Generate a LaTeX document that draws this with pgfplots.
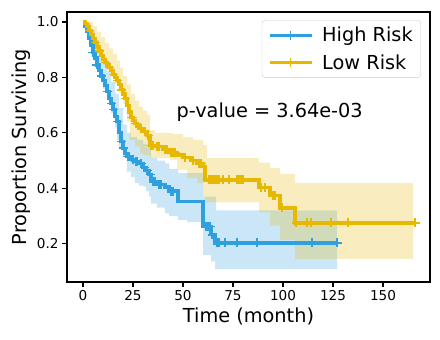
\documentclass[border=0pt]{standalone}
\usepackage{pgfplots}
\pgfplotsset{compat=1.18}
\usepgfplotslibrary{fillbetween}
\usepackage{fontspec}
\setmainfont{DejaVu Sans}
\definecolor{hblue}{HTML}{2E9FDF}
\definecolor{lgold}{HTML}{E7B800}

% Kaplan-Meier steps: time, survival
\pgfplotstableread{
t s
0 1.0
1 0.985
2 0.965
3 0.94
4 0.915
5 0.89
6 0.87
7 0.845
8 0.825
9 0.805
10 0.79
11 0.77
12 0.75
13 0.725
14 0.705
15 0.685
16 0.66
17 0.64
18 0.60
19 0.57
20 0.545
21 0.525
22 0.515
24 0.505
26 0.497
28 0.49
30 0.475
31.5 0.465
33 0.45
34 0.425
37 0.413
41 0.405
43 0.39
47.5 0.352
60 0.262
64 0.232
66 0.203
127 0.203
}\highkm
\pgfplotstableread{
t s
0 1.0
2 0.995
4 0.97
6 0.935
8 0.89
10 0.855
12 0.82
14 0.785
16 0.74
18 0.69
20 0.63
22 0.60
24 0.585
27 0.575
30 0.56
32 0.55
34 0.51
37 0.50
41 0.49
43 0.47
47.5 0.455
60 0.37
66.5 0.32
127 0.32
}\highup
\pgfplotstableread{
t s
0 1.0
2 0.94
4 0.89
6 0.84
8 0.80
10 0.76
12 0.72
14 0.67
16 0.62
17 0.575
18 0.545
20 0.515
22 0.46
24 0.44
26 0.42
28 0.41
30 0.406
31.5 0.39
33 0.37
34 0.345
37 0.33
41 0.31
43 0.30
47.5 0.286
52 0.278
60 0.16
64 0.136
66 0.109
127 0.109
}\highlo
\pgfplotstableread{
t s
0 1.0
1 0.995
2 0.985
3 0.97
4 0.955
5 0.94
6 0.925
7 0.91
8 0.895
9 0.88
10 0.865
11 0.855
12 0.845
13 0.835
14 0.825
15 0.81
16 0.80
17 0.79
18 0.775
19 0.755
20 0.74
21 0.725
22 0.70
23 0.675
24 0.655
25 0.645
26 0.635
27 0.625
28 0.615
30 0.605
32 0.59
33.5 0.555
36 0.55
40 0.54
43 0.53
47 0.52
50 0.51
54 0.50
57 0.49
60 0.48
61 0.43
88 0.403
93.5 0.373
98.5 0.329
106 0.275
166 0.275
}\lowkm
\pgfplotstableread{
t s
0 1.0
3 1.0
5 0.985
7 0.965
9 0.945
11 0.925
13 0.905
15 0.885
17 0.86
18.5 0.835
20 0.805
22 0.775
24 0.74
26 0.715
28 0.695
30 0.68
32 0.665
33.5 0.61
36 0.60
45 0.595
50 0.585
55 0.575
60 0.557
62 0.509
88 0.493
93.5 0.473
98.5 0.452
106 0.419
165 0.419
}\lowup
\pgfplotstableread{
t s
0 1.0
2 0.97
4 0.935
6 0.905
8 0.875
10 0.845
12 0.82
14 0.80
16 0.775
18 0.745
20 0.705
22 0.64
23.5 0.575
26 0.55
28.5 0.528
30 0.52
33.5 0.509
43.5 0.503
47 0.467
52 0.437
57 0.419
60 0.37
61 0.349
88 0.313
93.5 0.265
98.5 0.214
106 0.145
165 0.145
}\lowlo
% censored observations
\pgfplotstableread{
t s
5 0.89
7 0.845
9.5 0.805
12.5 0.75
14.5 0.705
15.5 0.685
17.5 0.64
19.5 0.57
20.5 0.545
22.5 0.515
23 0.515
25 0.505
26.5 0.497
27 0.497
29 0.49
30.5 0.475
32 0.465
33.5 0.45
35 0.425
36 0.425
38 0.413
39 0.413
44 0.39
45 0.39
61.5 0.262
62.5 0.262
63.5 0.262
64.5 0.232
67 0.203
68 0.203
71 0.203
77 0.203
87 0.203
114.5 0.203
127 0.203
}\highcens
\pgfplotstableread{
t s
3.5 0.97
6.5 0.925
8.5 0.895
11.5 0.855
13.5 0.835
15.5 0.81
17.5 0.79
19.5 0.755
21.5 0.725
24.5 0.655
26.5 0.635
29 0.615
31 0.605
32.5 0.59
34 0.555
35 0.555
37 0.55
38 0.55
41 0.54
42 0.54
44 0.53
45 0.53
46 0.53
51 0.51
55 0.50
58 0.49
59 0.49
63 0.43
64 0.43
65 0.43
66 0.43
67 0.43
68 0.43
70 0.43
73 0.43
77 0.43
78 0.43
79 0.43
80 0.43
89 0.403
91 0.403
95 0.373
96 0.373
99.5 0.329
106.5 0.275
112 0.275
114 0.275
124 0.275
132.5 0.275
166 0.275
}\lowcens

\begin{document}
\begin{tikzpicture}
\begin{axis}[
    name=ax,
    scale only axis,
    width=363pt, height=270pt,
    xmin=-8, xmax=173.5,
    ymin=0.062, ymax=1.036,
    xtick={0,25,...,150},
    ytick={0.2,0.4,0.6,0.8,1.0},
    xtick pos=bottom, ytick pos=left,
    tick align=outside,
    major tick length=4.9pt,
    every tick/.style={black, line width=1.1pt},
    axis line style={line width=1.1pt},
    yticklabel style={/pgf/number format/.cd, fixed, fixed zerofill, precision=1},
    /pgf/number format/assume math mode=true,
    tick label style={font=\fontsize{13.6}{16}\selectfont},
    xlabel={Time (month)},
    ylabel={Proportion Surviving},
    label style={font=\fontsize{19.3}{23}\selectfont},
    legend style={at={(0.975,0.970)}, anchor=north east,
        draw=black!20, rounded corners=3pt, fill=white,
        font=\fontsize{19.3}{23}\selectfont,
        row sep=7pt, column sep=7pt, inner xsep=6pt, inner ysep=5pt},
    legend cell align=left,
    legend image code/.code={\draw[mark repeat=2,mark phase=2,#1]
        plot coordinates {(0pt,0pt) (21pt,0pt) (42pt,0pt)};},
]
% confidence bands
\addplot[const plot, draw=none, name path=hu, forget plot] table {\highup};
\addplot[const plot, draw=none, name path=hl, forget plot] table {\highlo};
\addplot[fill=hblue, fill opacity=0.25, draw=none, forget plot] fill between[of=hu and hl];
\addplot[const plot, draw=none, name path=lu, forget plot] table {\lowup};
\addplot[const plot, draw=none, name path=ll, forget plot] table {\lowlo};
\addplot[fill=lgold, fill opacity=0.25, draw=none, forget plot] fill between[of=lu and ll];
% survival curves
\addplot[const plot, hblue, line width=3.2pt, forget plot] table {\highkm};
\addplot[const plot, lgold, line width=3.2pt, forget plot] table {\lowkm};
\addplot[only marks, hblue, mark=+, mark size=4.5pt, mark options={line width=1.3pt}, forget plot] table {\highcens};
\addplot[only marks, lgold, mark=+, mark size=4.5pt, mark options={line width=1.3pt}, forget plot] table {\lowcens};
\addlegendimage{hblue, line width=3.2pt, mark=+, mark size=4.5pt, mark options={line width=1.3pt}}
\addlegendentry{High Risk}
\addlegendimage{lgold, line width=3.2pt, mark=+, mark size=4.5pt, mark options={line width=1.3pt}}
\addlegendentry{Low Risk}
\node[anchor=base west, font=\fontsize{19.3}{23}\selectfont] at (axis cs:45,0.655) {p-value = 3.64e-03};
\end{axis}
\pgfresetboundingbox
\path ([shift={(-67pt,-58pt)}]ax.south west) rectangle ([shift={(10pt,12pt)}]ax.north east);
\end{tikzpicture}
\end{document}
